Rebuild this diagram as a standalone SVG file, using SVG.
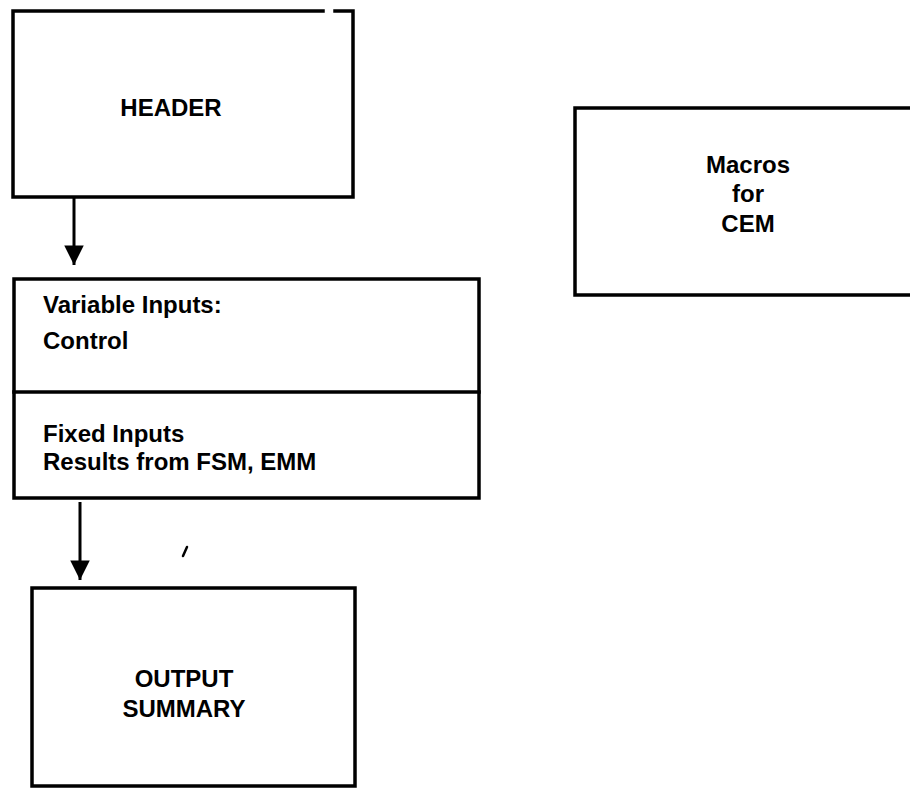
<svg xmlns="http://www.w3.org/2000/svg" width="910" height="788" viewBox="0 0 910 788">
<defs>
<style>
.box{fill:none;stroke:#000;stroke-width:3.5;stroke-linecap:square}
.t{font-family:"Liberation Sans",Arial,sans-serif;font-weight:bold;font-size:24px;fill:#000}
.c{text-anchor:middle}
.conn{stroke:#000;stroke-width:3;fill:none}
</style>
<marker id="ah" viewBox="0 0 10 10" refX="10" refY="5" markerWidth="7" markerHeight="6.5" markerUnits="strokeWidth" orient="auto">
<path d="M0,0 L10,5 L0,10 Z" fill="#000"/>
</marker>
</defs>
<rect width="910" height="788" fill="#fff"/>
<g id="header">
<path class="box" d="M323,11 H13 V197 H353 V11 H335"/>
<text class="t c" x="171" y="116">HEADER</text>
</g>
<g id="inputs">
<rect class="box" x="14" y="279" width="465" height="219"/>
<line class="box" x1="14" y1="392" x2="479" y2="392"/>
<text class="t" x="43" y="313">Variable Inputs:</text>
<text class="t" x="43" y="349">Control</text>
<text class="t" x="43" y="442">Fixed Inputs</text>
<text class="t" x="43" y="470">Results from FSM, EMM</text>
</g>
<g id="output">
<rect class="box" x="32" y="588" width="323" height="198"/>
<text class="t c" x="184" y="687">OUTPUT</text>
<text class="t c" x="184" y="717">SUMMARY</text>
</g>
<g id="macros">
<path class="box" d="M912,108 H575 V295 H912"/>
<text class="t c" x="748" y="173">Macros</text>
<text class="t c" x="748" y="202">for</text>
<text class="t c" x="748" y="232">CEM</text>
</g>
<g id="connectors">
<line class="conn" x1="74" y1="197" x2="74" y2="265" marker-end="url(#ah)"/>
<line class="conn" x1="80" y1="502" x2="80" y2="580" marker-end="url(#ah)"/>
</g>
<line x1="187" y1="547" x2="183" y2="556" stroke="#000" stroke-width="2.5" stroke-linecap="round"/>
</svg>
